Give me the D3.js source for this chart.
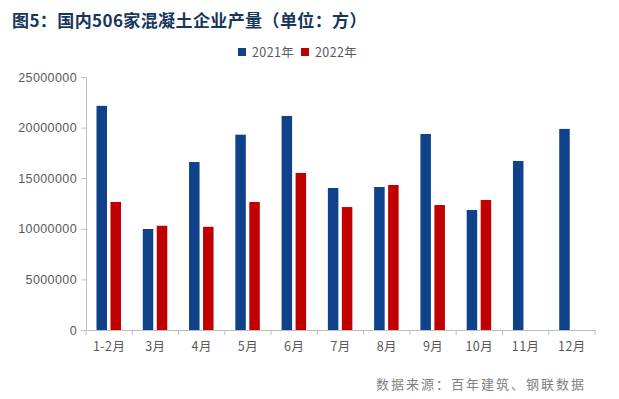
<!DOCTYPE html>
<meta charset="utf-8">
<style>
    body { margin: 0; background: #fff; font-family: "Noto Sans CJK SC", "DejaVu Sans", sans-serif; }
    .tick text { fill: #595959; font-size: 12.5px; letter-spacing: 0.4px; font-family: "Liberation Sans", "Noto Sans CJK SC", sans-serif; }
</style>
<svg width="619" height="399"></svg>
<script src="https://d3js.org/d3.v7.min.js"></script>
<script>
    var months = ["1-2月", "3月", "4月", "5月", "6月", "7月", "8月", "9月", "10月", "11月", "12月"];
    var series = ["2021年", "2022年"];
    var colors = ["#0f428a", "#c00000"];
    var v2021 = [22150000, 9980000, 16600000, 19300000, 21150000, 14030000, 14130000, 19370000, 11860000, 16700000, 19870000];
    var v2022 = [12650000, 10300000, 10200000, 12650000, 15520000, 12150000, 14330000, 12350000, 12850000, null, null];
    var yTicks = [0, 5000000, 10000000, 15000000, 20000000, 25000000];

    var svg = d3.select("svg");
    var margin = {left: 86, right: 24, top: 77, bottom: 69},
        width = 619 - margin.left - margin.right,
        height = 399 - margin.top - margin.bottom;

    svg.append("rect").attr("width", 619).attr("height", 399).attr("fill", "#fff");

    // title
    svg.append("text")
        .attr("x", 12).attr("y", 27)
        .attr("fill", "#16365c")
        .style("font-size", "17px")
        .style("font-weight", "bold")
        .style("letter-spacing", "0.4px")
        .text("图5：国内506家混凝土企业产量（单位：方）");

    var g = svg.append("g").attr("transform", "translate(" + margin.left + "," + margin.top + ")");

    var x = d3.scaleBand().domain(months).range([0, width]);
    var xs = d3.scaleBand().domain(series).range([10.5, 35]).paddingInner(0.25);
    var y = d3.scaleLinear().domain([0, 25000000]).range([height, 0]);

    var data = months.map(function (m, i) {
        return {month: m, vals: [v2021[i], v2022[i]]};
    });

    var groups = g.selectAll(".grp").data(data).enter().append("g")
        .attr("transform", function (d) { return "translate(" + x(d.month) + ",0)"; });

    groups.selectAll("rect")
        .data(function (d) {
            return d.vals.map(function (v, j) { return {s: series[j], v: v, c: colors[j]}; })
                .filter(function (e) { return e.v != null; });
        })
        .enter().append("rect")
        .attr("x", function (e) { return xs(e.s); })
        .attr("width", xs.bandwidth())
        .attr("y", function (e) { return y(e.v); })
        .attr("height", function (e) { return height - y(e.v); })
        .attr("fill", function (e) { return e.c; });

    // y axis
    var yAxis = g.append("g")
        .call(d3.axisLeft(y).tickValues(yTicks).tickFormat(d3.format("d")).tickSize(5).tickPadding(4));
    yAxis.select(".domain").attr("stroke", "#bfbfbf");
    yAxis.selectAll(".tick line").attr("stroke", "#bfbfbf");

    // x axis
    var xAxis = g.append("g").attr("transform", "translate(0," + height + ")")
        .call(d3.axisBottom(x).tickSize(0).tickPadding(12));
    xAxis.select(".domain").attr("stroke", "#bfbfbf");
    xAxis.selectAll(".tick text").style("font-family", "\"Noto Sans CJK SC\", sans-serif");
    // category boundary ticks
    xAxis.selectAll(".bound").data(d3.range(months.length + 1)).enter().append("line")
        .attr("x1", function (i) { return i * x.step(); })
        .attr("x2", function (i) { return i * x.step(); })
        .attr("y1", 0).attr("y2", 5)
        .attr("stroke", "#bfbfbf");

    // legend
    var legend = svg.append("g").attr("transform", "translate(238,47)");
    var lx = [0, 63];
    series.forEach(function (s, i) {
        legend.append("rect").attr("x", lx[i]).attr("y", 1).attr("width", 8).attr("height", 8).attr("fill", colors[i]);
        legend.append("text").attr("x", lx[i] + 14).attr("y", 10)
            .attr("fill", "#595959").style("font-size", "12.5px").style("letter-spacing", "0.4px").text(s);
    });

    // source
    svg.append("text")
        .attr("x", 376).attr("y", 389)
        .attr("fill", "#7f7f7f")
        .style("font-size", "13px")
        .style("letter-spacing", "2px")
        .text("数据来源：百年建筑、钢联数据");
</script>
